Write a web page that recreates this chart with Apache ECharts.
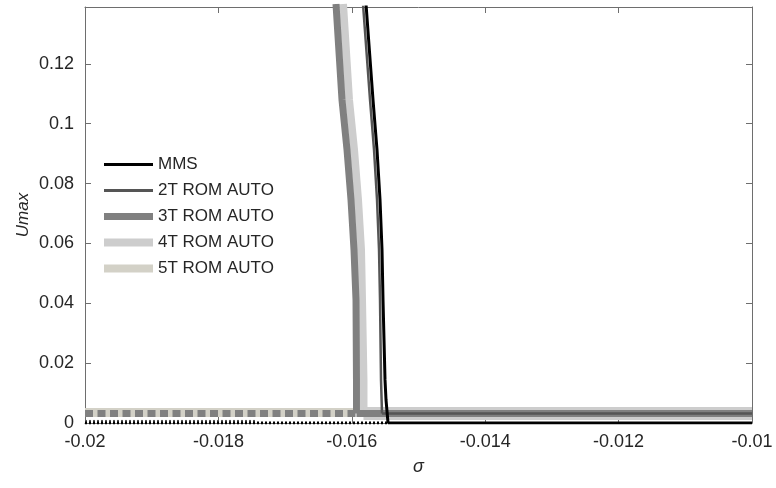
<!DOCTYPE html>
<html><head><meta charset="utf-8">
<script src="https://cdn.jsdelivr.net/npm/echarts@6/dist/echarts.min.js"></script>
<style>html,body{margin:0;padding:0;background:#fff}#c{width:776px;height:488px}</style>
</head><body><div id="c"></div>
<script>
// ---- data ----
const legendNames = ['MMS', '2T ROM AUTO', '3T ROM AUTO', '4T ROM AUTO', '5T ROM AUTO'];

// MMS
const mmsBranch = [[-0.015787,0.14],[-0.015682,0.1080],[-0.015622,0.0913],[-0.015577,0.0746],[-0.015547,0.0579],[-0.015532,0.0411],[-0.015502,0.0144],[-0.015487,0.0077],[-0.015457,0]];
const mmsStable = [[-0.015457,0],[-0.01,0]];
const mmsUnstable = [[-0.02,0],[-0.015457,0]];

// 2T ROM AUTO
const rom2Branch = [[-0.015832,0.14],[-0.015727,0.1080],[-0.015667,0.0913],[-0.015622,0.0746],[-0.015592,0.0579],[-0.015577,0.0411],[-0.015562,0.0144],[-0.015547,0.0032]];
const rom2Stable = [[-0.015547,0.0032],[-0.01,0.0032]];
const rom2Unstable = [[-0.02,0.0006],[-0.017421,0.0006]];

// 3T ROM AUTO
const rom3Branch = [[-0.016237,0.14],[-0.016147,0.1080],[-0.016072,0.0913],[-0.016012,0.0746],[-0.015967,0.0579],[-0.015937,0.0411],[-0.015930,0.0144],[-0.015930,0.0032]];
const rom3Stable = [[-0.015930,0.0032],[-0.01,0.0032]];
const rom3Unstable = [[-0.02,0.0032],[-0.015930,0.0032]];

// 4T ROM AUTO
const rom4Branch = [[-0.016132,0.14],[-0.016042,0.1080],[-0.015967,0.0913],[-0.015907,0.0746],[-0.015862,0.0579],[-0.015847,0.0411],[-0.015825,0.0144],[-0.015825,0.0032]];
const rom4Stable = [[-0.015825,0.0032],[-0.01,0.0032]];

// 5T ROM AUTO
const rom5Unstable = [[-0.02,0.0035],[-0.01595,0.0035]];

const C_MMS = '#000000', C_2T = '#555555', C_3T = '#808080', C_4T = '#cdcdcd', C_5T = '#d3d1c7';
const TXT = '#262626', AX = '#6e6e6e';
const FONT = "'Liberation Sans', Arial, sans-serif";

function ln(name, data, color, width, type) {
  return { type: 'line', name: name, data: data, symbol: 'none', showSymbol: false,
    animation: false, silent: true, clip: true,
    lineStyle: { color: color, width: width, type: type || 'solid', cap: 'butt', join: 'round' },
    itemStyle: { color: color } };
}
function lg(name, color, width) {
  return { name: name, lineStyle: { width: width, color: color },
    itemStyle: { color: 'rgba(0,0,0,0)', opacity: 0, borderWidth: 0 } };
}

const chart = echarts.init(document.getElementById('c'), null, { renderer: 'canvas' });
const axCommon = {
  axisLine: { show: true, onZero: false, lineStyle: { color: AX, width: 1 } },
  axisTick: { show: true, inside: true, length: 6, lineStyle: { color: AX } },
  splitLine: { show: false }
};
chart.setOption({
  animation: false,
  backgroundColor: '#ffffff',
  grid: { left: 85, right: 24, top: 7, bottom: 65, containLabel: false },
  legend: {
    orient: 'vertical', left: 100, top: 156, padding: 0, itemWidth: 49, itemHeight: 14, itemGap: 9,
    textStyle: { color: TXT, fontSize: 17, fontFamily: FONT },
    data: [
      lg('MMS', C_MMS, 3),
      lg('2T ROM AUTO', C_2T, 3),
      lg('3T ROM AUTO', C_3T, 7),
      lg('4T ROM AUTO', C_4T, 8),
      lg('5T ROM AUTO', C_5T, 8)
    ],
    selectedMode: false
  },
  xAxis: [
    Object.assign({ type: 'value', min: -0.02, max: -0.01, interval: 0.002, position: 'bottom',
      name: 'σ', nameLocation: 'middle', nameGap: 35, nameMoveOverlap: false,
      nameTextStyle: { color: TXT, fontSize: 18, fontStyle: 'italic', fontFamily: FONT },
      axisLabel: { color: TXT, fontSize: 18, fontFamily: FONT, margin: 10 } }, axCommon),
    Object.assign({ type: 'value', min: -0.02, max: -0.01, interval: 0.002, position: 'top',
      axisLabel: { show: false } }, axCommon)
  ],
  yAxis: [
    Object.assign({ type: 'value', min: 0, max: 0.139, interval: 0.02, position: 'left',
      name: 'Umax', nameLocation: 'middle', nameGap: 53, nameMoveOverlap: false,
      nameTextStyle: { color: TXT, fontSize: 17, fontStyle: 'italic', fontFamily: FONT },
      axisLabel: { color: TXT, fontSize: 18, fontFamily: FONT, margin: 11, showMaxLabel: false } }, axCommon),
    Object.assign({ type: 'value', min: 0, max: 0.139, interval: 0.02, position: 'right',
      axisLabel: { show: false } }, axCommon)
  ],
  series: [
    ln('5T ROM AUTO', rom5Unstable, C_5T, 9),
    ln('4T ROM AUTO', rom4Branch, C_4T, 8),
    ln('4T-s', rom4Stable, C_4T, 13),
    ln('3T ROM AUTO', rom3Branch, C_3T, 7),
    ln('3T-s', rom3Stable, C_3T, 7),
    ln('3T-u', rom3Unstable, C_3T, 7, [8, 4.5]),
    ln('2T ROM AUTO', rom2Branch, C_2T, 2.5),
    ln('2T-s', rom2Stable, C_2T, 2.5),
    ln('2T-u', rom2Unstable, C_2T, 2.5, [2, 2]),
    ln('MMS', mmsBranch, C_MMS, 3),
    ln('MMS-s', mmsStable, C_MMS, 3),
    ln('MMS-u', mmsUnstable, C_MMS, 3, [2, 2])
  ]
});
</script>
</body></html>
